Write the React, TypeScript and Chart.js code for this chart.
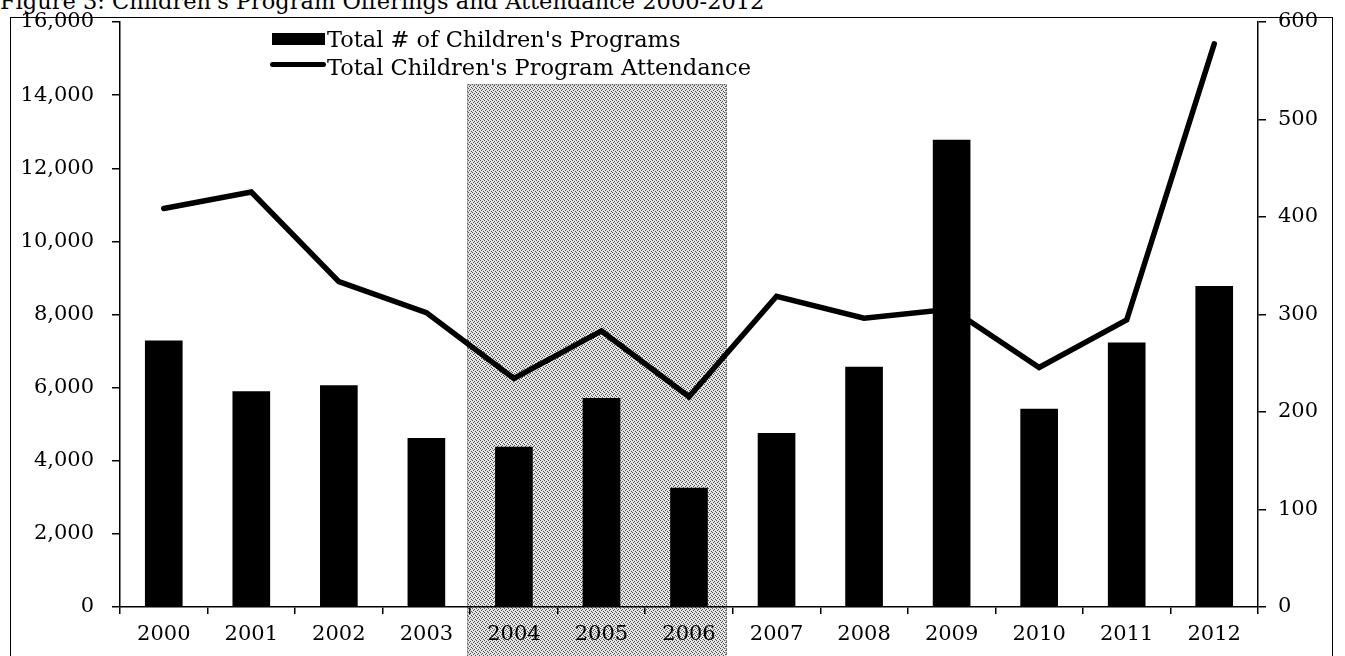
import React, { useEffect, useRef } from "react";
import { Chart, registerables } from "chart.js";

Chart.register(...registerables);

const categories = ["2000", "2001", "2002", "2003", "2004", "2005", "2006", "2007", "2008", "2009", "2010", "2011", "2012"];
const programs = [273, 221, 227, 173, 164, 214, 122, 178, 246, 479, 203, 271, 329];
const attendance = [10900, 11350, 8900, 8050, 6250, 7550, 5750, 8500, 7900, 8150, 6550, 7850, 15400];
const leftMax = 16000;
const leftStep = 2000;
const rightMax = 600;
const rightStep = 100;
const shadeStart = "2004";
const shadeEnd = "2006";
const shadeTop = 14300;

const titleText = "Figure 3: Children's Program Offerings and Attendance 2000-2012";
const legendBars = "Total # of Children's Programs";
const legendLine = "Total Children's Program Attendance";

const FONT = "'DejaVu Serif', serif";

const shadePlugin = {
  id: "shade",
  beforeDraw(chart: any) {
    const { ctx } = chart;
    const x = chart.scales.x;
    const yL = chart.scales.yL;
    const i0 = categories.indexOf(shadeStart);
    const i1 = categories.indexOf(shadeEnd);
    const half = (x.getPixelForValue(1) - x.getPixelForValue(0)) / 2;
    const left = x.getPixelForValue(i0) - half - 3;
    const right = x.getPixelForValue(i1) + half - 6;
    const top = yL.getPixelForValue(shadeTop);
    const bottom = chart.height;
    const pc = document.createElement("canvas");
    pc.width = 4;
    pc.height = 4;
    const p = pc.getContext("2d")!;
    p.fillStyle = "#e4e4e4";
    p.fillRect(0, 0, 4, 4);
    p.fillStyle = "#505050";
    [[0, 0], [2, 1], [1, 2], [3, 3]].forEach(([a, b]) => p.fillRect(a, b, 1, 1));
    const pat = ctx.createPattern(pc, "repeat");
    ctx.save();
    ctx.fillStyle = pat || "#c4c4c4";
    ctx.fillRect(left, top, right - left, bottom - top);
    ctx.strokeStyle = "#555";
    ctx.lineWidth = 1;
    ctx.setLineDash([1, 1]);
    ctx.strokeRect(left + 0.5, top + 0.5, right - left - 1, bottom - top + 2);
    ctx.restore();
  },
};

export default function App() {
  const ref = useRef<HTMLCanvasElement>(null);
  useEffect(() => {
    const chart = new Chart(ref.current!, {
      type: "bar",
      data: {
        labels: categories,
        datasets: [
          {
            type: "bar",
            label: legendBars,
            data: programs,
            yAxisID: "yR",
            backgroundColor: "#000",
            barThickness: 37,
            order: 0,
          },
          {
            type: "line",
            label: legendLine,
            data: attendance,
            yAxisID: "yL",
            borderColor: "#000",
            borderWidth: 5.5,
            pointRadius: 0,
            tension: 0,
            borderCapStyle: "round",
            borderJoinStyle: "miter",
            order: 1,
          } as any,
        ],
      },
      options: {
        responsive: false,
        animation: false,
        devicePixelRatio: 1,
        layout: { padding: { left: 10, right: 12, top: 22, bottom: 0 } },
        plugins: { legend: { display: false }, tooltip: { enabled: false }, title: { display: false } },
        scales: {
          x: {
            type: "category",
            offset: true,
            grid: { display: true, drawOnChartArea: false, drawTicks: true, tickLength: 7, offset: true, color: "#000", lineWidth: 1.5 },
            border: { display: true, color: "#000", width: 1.5 },
            ticks: { color: "#000", font: { family: FONT, size: 21 }, padding: 8, maxRotation: 0, autoSkip: false },
            afterFit: (s: any) => { s.height = 49; s.paddingLeft = 0; s.paddingRight = 0; },
          },
          yL: {
            type: "linear",
            position: "left",
            min: 0,
            max: leftMax,
            grid: { display: true, drawOnChartArea: false, drawTicks: true, tickLength: 8, color: "#000", lineWidth: 1.5 },
            border: { display: true, color: "#000", width: 1.5 },
            ticks: {
              stepSize: leftStep,
              color: "#000",
              font: { family: FONT, size: 21 },
              padding: 18,
              callback: (v: any) => Number(v).toLocaleString("en-US"),
            },
            afterFit: (s: any) => { s.width = 110; s.paddingTop = 0; s.paddingBottom = 0; },
          },
          yR: {
            type: "linear",
            position: "right",
            min: 0,
            max: rightMax,
            grid: { display: true, drawOnChartArea: false, drawTicks: true, tickLength: 8, color: "#000", lineWidth: 1.5 },
            border: { display: true, color: "#000", width: 1.5 },
            ticks: { stepSize: rightStep, color: "#000", font: { family: FONT, size: 21 }, padding: 12 },
            afterFit: (s: any) => { s.width = 75; s.paddingTop = 0; s.paddingBottom = 0; },
          },
        },
      },
      plugins: [shadePlugin],
    });
    return () => chart.destroy();
  }, []);

  return (
    <div style={{ position: "fixed", left: 0, top: 0, width: 1345, height: 656, overflow: "hidden", background: "#fff", fontFamily: FONT }}>
      <div style={{ position: "absolute", left: 0, top: -11, fontSize: 22.5, lineHeight: "24px", whiteSpace: "nowrap", color: "#000" }}>{titleText}</div>
      <div style={{ position: "absolute", left: 10, top: 17, width: 1323, height: 700, border: "1.5px solid #000", boxSizing: "border-box" }} />
      <canvas ref={ref} width={1345} height={656} style={{ position: "absolute", left: 0, top: 0 }} />
      <div style={{ position: "absolute", left: 272, top: 33, width: 53, height: 12, background: "#000" }} />
      <div style={{ position: "absolute", left: 270, top: 62, width: 56, height: 5, borderRadius: 3, background: "#000" }} />
      <div style={{ position: "absolute", left: 327, top: 25, fontSize: 22.5, lineHeight: "28px", whiteSpace: "nowrap", color: "#000" }}>{legendBars}</div>
      <div style={{ position: "absolute", left: 327, top: 53, fontSize: 22.5, lineHeight: "28px", whiteSpace: "nowrap", color: "#000" }}>{legendLine}</div>
    </div>
  );
}
